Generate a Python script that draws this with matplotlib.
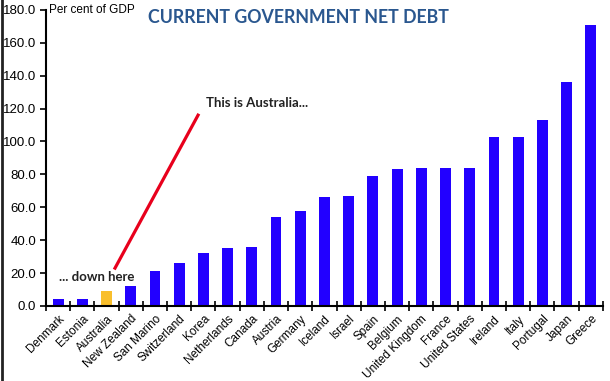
import numpy as np
import matplotlib.pyplot as plt
from matplotlib.lines import Line2D

countries = ['Denmark', 'Estonia', 'Australia', 'New Zealand', 'San Marino', 'Switzerland',
             'Korea', 'Netherlands', 'Canada', 'Austria', 'Germany', 'Iceland', 'Israel',
             'Spain', 'Belgium', 'United Kingdom', 'France', 'United States', 'Ireland',
             'Italy', 'Portugal', 'Japan', 'Greece']
net_debt = [4, 4, 9, 12, 21, 26, 32, 35, 36, 54, 58, 66, 67, 79, 83, 84, 84, 84,
            103, 103, 113, 136, 171]
highlight = 'Australia'
y_ticks = [0, 20, 40, 60, 80, 100, 120, 140, 160, 180]

fig = plt.figure(figsize=(6.1, 3.81), dpi=100)
ax = fig.add_axes([0.0754, 0.197, 0.913, 0.777])

x = np.arange(len(countries))
colors = ['#f9bf2c' if c == highlight else '#2200ff' for c in countries]
ax.bar(x, net_debt, width=0.45, color=colors, zorder=2)

ax.set_xlim(-0.5, len(countries) - 0.5)
ax.set_ylim(0, 180)
ax.set_yticks(y_ticks)
ax.set_yticklabels([f'{v:.1f}' for v in y_ticks], fontsize=9.5, family='Liberation Sans')
ax.tick_params(axis='y', direction='out', length=4, width=1.2, pad=3)

ax.set_xticks(x)
ax.set_xticklabels(countries, rotation=45, ha='right', rotation_mode='anchor',
                   fontsize=8.5, family='Liberation Sans')
ax.tick_params(axis='x', which='major', length=0, pad=5)
ax.set_xticks(np.arange(-0.5, len(countries)), minor=True)
ax.tick_params(axis='x', which='minor', direction='inout', length=7, width=1.2)

for s in ['top', 'right']:
    ax.spines[s].set_visible(False)
for s in ['left', 'bottom']:
    ax.spines[s].set_linewidth(1.5)

ax.text(0.006, 1.0, 'Per cent of GDP', transform=ax.transAxes, fontsize=8.5,
        family='Liberation Sans', va='center', ha='left')

# arrow line pointing to Australia
ax.plot([2.35, 5.78], [23, 116], color='#e8001c', linewidth=2.3, zorder=3)
ax.text(8.2, 123.5, 'This is Australia...', fontsize=9.5, fontweight='bold',
        family='Lato', ha='center', va='center', color='#222222')
ax.text(1.6, 17.5, '... down here', fontsize=9.5, fontweight='bold',
        family='Lato', ha='center', va='center', color='#222222')

fig.text(0.489, 0.953, 'CURRENT GOVERNMENT NET DEBT', fontsize=12.8, fontweight='bold',
         family='Lato', color='#2a578f', ha='center', va='center')

# left frame border
fig.add_artist(Line2D([0.003, 0.003], [0, 1], transform=fig.transFigure,
                      color='#222222', linewidth=2))

fig.savefig('out.png', dpi=100)
